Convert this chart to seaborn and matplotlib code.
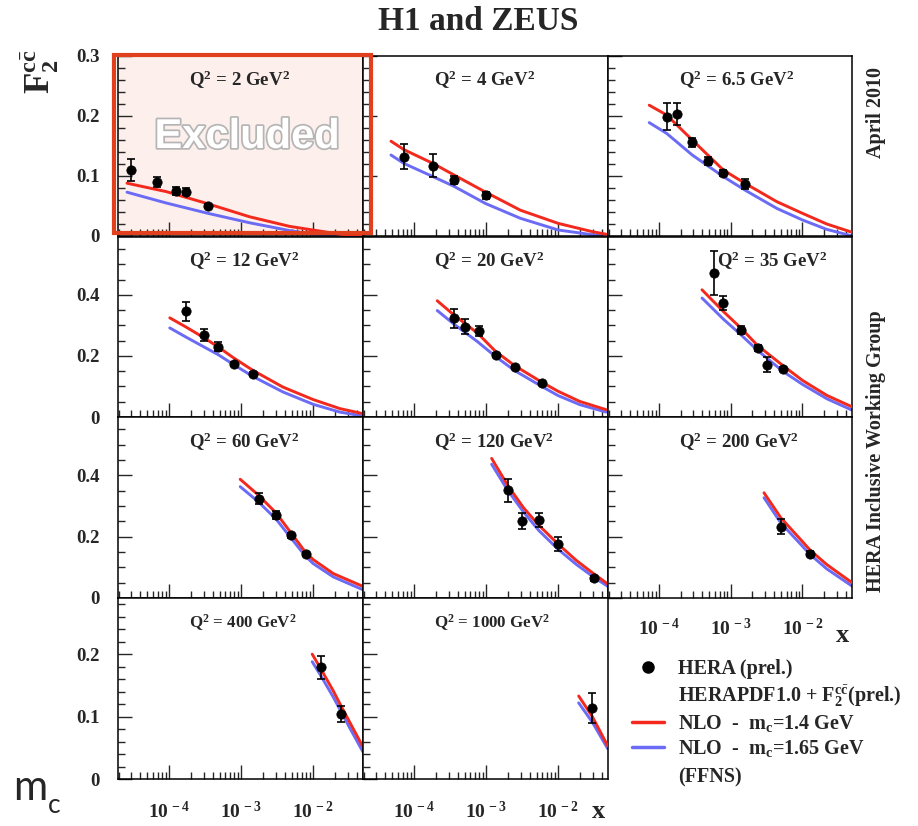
import matplotlib
matplotlib.use("Agg")
import matplotlib.pyplot as plt
import matplotlib.patheffects as pe
from matplotlib.lines import Line2D
from matplotlib.patches import Rectangle
from matplotlib.ticker import MultipleLocator, LogLocator, FuncFormatter, NullFormatter
import seaborn as sns

# ---- data ----
q2_vals = ["2", "4", "6.5", "12", "20", "35", "60", "120", "200", "400", "1000"]

# HERA (prel.) points, one list per Q2 bin
pts_x = [
    [2.92e-5, 6.73e-5, 1.26e-4, 1.74e-4, 3.42e-4],
    [7.2e-5, 1.82e-4, 3.54e-4, 9.84e-4],
    [1.28e-4, 1.77e-4, 2.91e-4, 4.82e-4, 7.89e-4, 1.57e-3],
    [1.74e-4, 3.08e-4, 4.82e-4, 7.82e-4, 1.45e-3],
    [3.54e-4, 5.07e-4, 7.96e-4, 1.35e-3, 2.49e-3, 5.92e-3],
    [5.85e-4, 7.89e-4, 1.38e-3, 2.38e-3, 3.18e-3, 5.31e-3],
    [1.74e-3, 3.08e-3, 4.88e-3, 7.82e-3],
    [1.99e-3, 3.17e-3, 5.38e-3, 9.82e-3, 3.13e-2],
    [4.98e-3, 1.28e-2],
    [1.28e-2, 2.43e-2],
    [2.97e-2],
]
pts_f2 = [
    [0.110, 0.0905, 0.075, 0.074, 0.050],
    [0.132, 0.117, 0.093, 0.068],
    [0.199, 0.203, 0.156, 0.125, 0.1055, 0.0867],
    [0.346, 0.269, 0.231, 0.173, 0.142],
    [0.3235, 0.296, 0.282, 0.204, 0.1625, 0.111],
    [0.472, 0.374, 0.286, 0.226, 0.171, 0.157],
    [0.324, 0.270, 0.204, 0.143],
    [0.351, 0.251, 0.255, 0.1767, 0.064],
    [0.232, 0.145],
    [0.179, 0.104],
    [0.114],
]
pts_err = [
    [0.018, 0.008, 0.006, 0.006, 0.004],
    [0.021, 0.019, 0.007, 0.006],
    [0.022, 0.018, 0.008, 0.007, 0.005, 0.008],
    [0.030, 0.020, 0.015, 0.007, 0.007],
    [0.031, 0.024, 0.015, 0.006, 0.006, 0.006],
    [0.073, 0.023, 0.013, 0.010, 0.025, 0.007],
    [0.018, 0.013, 0.008, 0.007],
    [0.038, 0.027, 0.023, 0.022, 0.007],
    [0.025, 0.008],
    [0.018, 0.013],
    [0.024],
]

# NLO FFNS curves (same x grid for both charm masses)
curve_x = [
    [2.6e-5, 9.1e-5, 3.39e-4, 1.31e-3, 4.72e-3, 9.9e-3, 2.35e-2, 4.92e-2],
    [4.77e-5, 7.2e-5, 1.82e-4, 3.54e-4, 9.84e-4, 2.98e-3, 1.0e-2, 3.03e-2, 4.62e-2],
    [7.32e-5, 1.28e-4, 2.91e-4, 7.89e-4, 1.57e-3, 4.39e-3, 1.0e-2, 2.18e-2, 4.97e-2],
    [1.02e-4, 1.74e-4, 3.08e-4, 4.82e-4, 7.82e-4, 1.45e-3, 3.8e-3, 1.0e-2, 2.35e-2, 4.88e-2],
    [2.09e-4, 3.54e-4, 7.57e-4, 1.35e-3, 2.49e-3, 5.92e-3, 1.0e-2, 1.99e-2, 4.62e-2],
    [3.98e-4, 7.89e-4, 1.38e-3, 2.38e-3, 5.31e-3, 1.0e-2, 2.18e-2, 4.97e-2],
    [9.68e-4, 1.74e-3, 3.08e-3, 4.88e-3, 7.82e-3, 1.0e-2, 1.9e-2, 4.88e-2],
    [1.19e-3, 1.99e-3, 3.3e-3, 5.38e-3, 9.82e-3, 1.79e-2, 3.13e-2, 4.86e-2],
    [2.91e-3, 4.98e-3, 1.28e-2, 2.18e-2, 4.97e-2],
    [9.67e-3, 1.28e-2, 1.9e-2, 2.43e-2, 3.24e-2, 4.88e-2],
    [1.92e-2, 2.97e-2, 4.86e-2],
]
nlo_140 = [
    [0.088, 0.074, 0.054, 0.032, 0.016, 0.010, 0.003, 0.0],
    [0.158, 0.144, 0.121, 0.102, 0.073, 0.043, 0.021, 0.007, 0.003],
    [0.218, 0.2017, 0.160, 0.110, 0.088, 0.0572, 0.0378, 0.020, 0.006],
    [0.325, 0.294, 0.259, 0.229, 0.194, 0.153, 0.098, 0.057, 0.0274, 0.011],
    [0.381, 0.335, 0.275, 0.215, 0.168, 0.114, 0.084, 0.051, 0.024],
    [0.417, 0.346, 0.292, 0.234, 0.169, 0.120, 0.071, 0.0327],
    [0.387, 0.335, 0.276, 0.213, 0.149, 0.125, 0.0795, 0.038],
    [0.455, 0.367, 0.294, 0.237, 0.177, 0.122, 0.0785, 0.0458],
    [0.343, 0.262, 0.156, 0.109, 0.049],
    [0.200, 0.176, 0.141, 0.117, 0.090, 0.0517],
    [0.133, 0.100, 0.053],
]
nlo_165 = [
    [0.073, 0.055, 0.038, 0.022, 0.009, 0.003, 0.0, 0.0],
    [0.135, 0.121, 0.099, 0.083, 0.054, 0.0295, 0.010, 0.002, 0.0],
    [0.189, 0.171, 0.135, 0.099, 0.0767, 0.046, 0.0267, 0.011, 0.0],
    [0.292, 0.261, 0.229, 0.204, 0.172, 0.133, 0.082, 0.0415, 0.016, 0.003],
    [0.349, 0.305, 0.247, 0.198, 0.152, 0.100, 0.070, 0.0405, 0.016],
    [0.390, 0.321, 0.270, 0.218, 0.150, 0.107, 0.060, 0.022],
    [0.363, 0.313, 0.256, 0.196, 0.136, 0.112, 0.0687, 0.027],
    [0.436, 0.351, 0.280, 0.220, 0.160, 0.109, 0.0674, 0.038],
    [0.327, 0.245, 0.1417, 0.095, 0.038],
    [0.188, 0.165, 0.131, 0.108, 0.081, 0.0437],
    [0.122, 0.091, 0.0485],
]

RED = "#f2291c"
BLUE = "#6b6bf5"

sns.set_style("ticks")
plt.rcParams["font.family"] = ["Liberation Serif", "DejaVu Serif"]
plt.rcParams["font.weight"] = "bold"
plt.rcParams["mathtext.fontset"] = "custom"
plt.rcParams["mathtext.rm"] = "Liberation Serif:bold"
plt.rcParams["mathtext.bf"] = "Liberation Serif:bold"
plt.rcParams["mathtext.it"] = "Liberation Serif:italic:bold"

W, H = 918, 826
fig = plt.figure(figsize=(W / 100, H / 100), dpi=100)

col_left = [118, 363, 608]
col_w = [245, 245, 244]
row_top = [56, 237, 417, 598]
row_h = [180, 180, 181, 181]
row_ylim = [0.3, 0.59, 0.59, 0.29]
row_major = [0.1, 0.2, 0.2, 0.1]
row_minor = [0.02, 0.05, 0.05, 0.02]

def yfmt(v, pos):
    return "0" if abs(v) < 1e-9 else f"{v:g}"

def xfmt(v, pos):
    import math
    e = int(round(math.log10(v)))
    return r"$\mathbf{10^{\,%d}}$" % e

for i in range(11):
    r, c = divmod(i, 3)
    L, T, Wd, Ht = col_left[c], row_top[r], col_w[c], row_h[r]
    ax = fig.add_axes([L / W, 1 - (T + Ht) / H, Wd / W, Ht / H])
    if i == 0:
        ax.set_facecolor("#fcefec")
    sns.lineplot(x=curve_x[i], y=nlo_165[i], ax=ax, color=BLUE, lw=2.1, zorder=2)
    sns.lineplot(x=curve_x[i], y=nlo_140[i], ax=ax, color=RED, lw=2.1, zorder=3)
    ax.errorbar(pts_x[i], pts_f2[i], yerr=pts_err[i], fmt="none", ecolor="black",
                elinewidth=1.2, capsize=3, capthick=1.2, zorder=4)
    sns.scatterplot(x=pts_x[i], y=pts_f2[i], ax=ax, color="black", s=45,
                    edgecolor="black", zorder=5)
    ax.set_xscale("log")
    ax.set_xlim(1.95e-5, 0.049)
    ax.set_ylim(0, row_ylim[r])
    ax.yaxis.set_major_locator(MultipleLocator(row_major[r]))
    ax.yaxis.set_minor_locator(MultipleLocator(row_minor[r]))
    ax.xaxis.set_major_locator(LogLocator(base=10))
    ax.xaxis.set_minor_locator(LogLocator(base=10, subs=range(2, 10)))
    ax.xaxis.set_minor_formatter(NullFormatter())
    ax.tick_params(which="both", direction="in", top=False, right=False, width=1)
    ax.tick_params(which="major", length=10)
    ax.tick_params(which="minor", length=5)
    ax.set_xlabel("")
    ax.set_ylabel("")
    for s in ax.spines.values():
        s.set_linewidth(1.1)
        s.set_color("black")
    if c == 0:
        ax.yaxis.set_major_formatter(FuncFormatter(yfmt))
        ax.tick_params(axis="y", labelsize=13.5, pad=13)
    else:
        ax.tick_params(axis="y", labelleft=False)
    if r == 3 or (r == 2 and c == 2):
        ax.xaxis.set_major_formatter(FuncFormatter(xfmt))
        ax.tick_params(axis="x", labelsize=14, pad=16 if r == 3 else 14)
    else:
        ax.tick_params(axis="x", labelbottom=False)
    lx = 0.445 if i == 5 else 0.29
    ax.text(lx, 0.865, r"$\mathbf{Q^{2}}$ = %s $\mathbf{GeV^{2}}$" % q2_vals[i],
            transform=ax.transAxes, ha="left", va="center",
            fontsize=13.6 if r < 3 else 12.2, fontweight="bold")
    if i == 0:
        ax.text(0.527, 0.55, "Excluded", transform=ax.transAxes, ha="center", va="center",
                fontsize=30, fontweight="bold", family="Liberation Sans", color="white",
                path_effects=[pe.withStroke(linewidth=2.5, foreground="#b5b5b5")], zorder=6)

# red frame around the excluded bin
fig.patches.append(Rectangle((114 / W, 1 - 233 / H), (371 - 114) / W, (233 - 55) / H,
                             transform=fig.transFigure, fill=False, edgecolor="#e0401e",
                             linewidth=3, zorder=10))

fig.text(478 / W, 1 - 22 / H, "H1 and ZEUS", ha="center", va="center",
         fontsize=24, fontweight="bold")
fig.text(40 / W, 1 - 72 / H, r"$\mathbf{F_2^{c\bar{c}}}$", rotation=90,
         ha="center", va="center", fontsize=25)
fig.text(876 / W, 1 - 112 / H, "April 2010", rotation=90, ha="center", va="center",
         fontsize=14.5, fontweight="bold")
fig.text(876 / W, 1 - 451 / H, "HERA Inclusive Working Group", rotation=90,
         ha="center", va="center", fontsize=14.5, fontweight="bold")
fig.text(599 / W, 1 - 812 / H, "x", ha="center", va="center", fontsize=19, fontweight="bold")
fig.text(843 / W, 1 - 635 / H, "x", ha="center", va="center", fontsize=19, fontweight="bold")
fig.text(13 / W, 1 - 800 / H, "m", ha="left", va="baseline", fontsize=30,
         family="Lato", fontweight="normal")
fig.text(48 / W, 1 - 813 / H, "c", ha="left", va="baseline", fontsize=19,
         family="Lato", fontweight="normal")

handles = [
    Line2D([], [], ls="none", marker="o", color="black", ms=8),
    Line2D([], [], ls="none"),
    Line2D([], [], color=RED, lw=2.5),
    Line2D([], [], color=BLUE, lw=2.5),
]
labels = [
    "HERA (prel.)",
    r"HERAPDF1.0 + $\mathbf{F_2^{c\bar{c}}}$(prel.)",
    r"NLO  -  $\mathbf{m_c}$=1.4 GeV",
    r"NLO  -  $\mathbf{m_c}$=1.65 GeV",
]
fig.legend(handles, labels, loc="upper left", bbox_to_anchor=(632 / W, 1 - 659 / H),
           frameon=False, prop={"family": "Liberation Serif", "weight": "bold", "size": 14.5},
           handlelength=1.6, handletextpad=0.7, labelspacing=0.2, borderpad=0,
           borderaxespad=0)
fig.text(678 / W, 1 - 777 / H, "(FFNS)", ha="left", va="center", fontsize=14.5,
         fontweight="bold")

fig.savefig("out.png", dpi=100)
